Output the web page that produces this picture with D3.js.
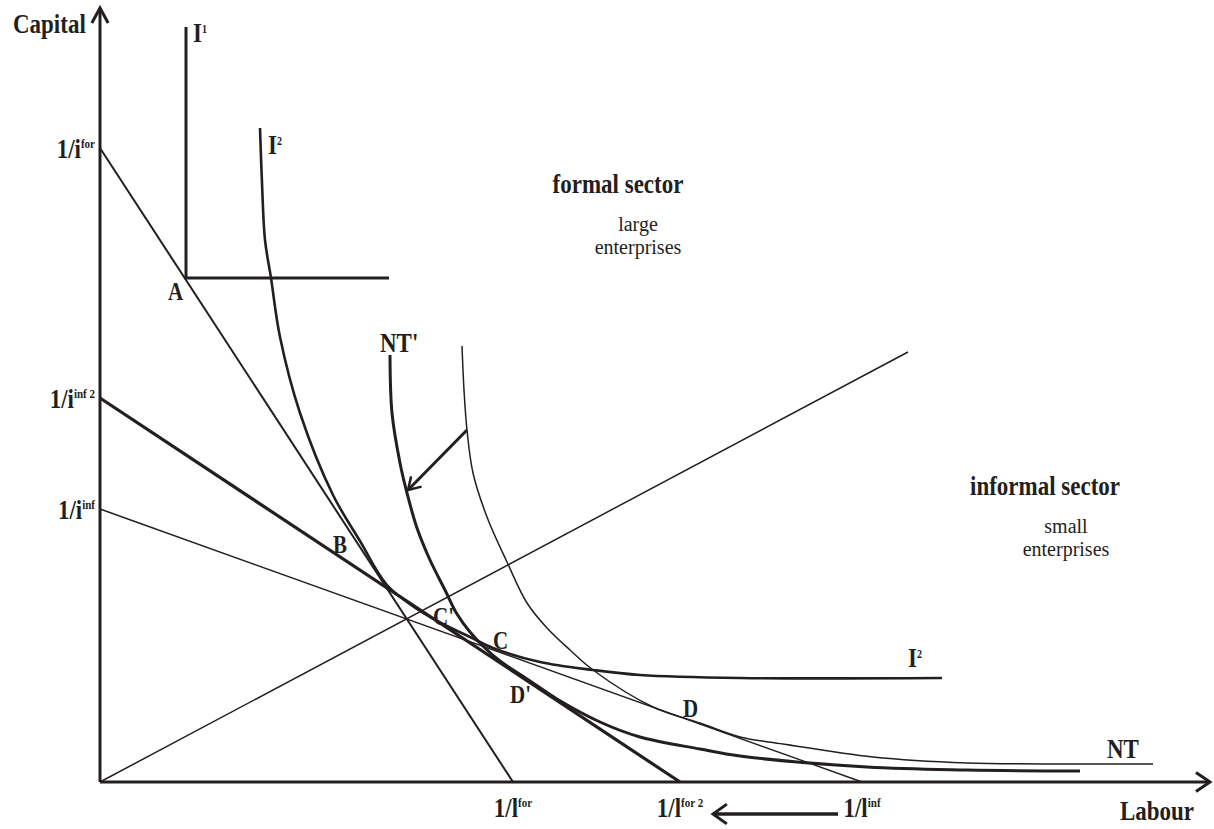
<!DOCTYPE html>
<html>
<head>
<meta charset="utf-8">
<script src="https://cdn.jsdelivr.net/npm/d3@7/dist/d3.min.js"></script>
<style>
  body { margin: 0; background: #fff; }
  text { font-family: "Liberation Serif", "Times New Roman", serif; fill: #231f20; }
</style>
</head>
<body>
<div id="chart"></div>
<script>
var svgWidth = 1214;
var svgHeight = 829;

var margin = { top: 8, right: 14, bottom: 47, left: 100 };
var width = svgWidth - margin.left - margin.right;
var height = svgHeight - margin.top - margin.bottom;
var ink = "#231f20";

// isocost lines: capital and labour intercepts
var budgetNames = ["for", "inf 2", "inf"];
var labourNames = ["for", "for 2", "inf"];
var capitalIntercepts = [63.4, 38.4, 27.3];
var labourIntercepts = [41.3, 58.0, 76.2];
var budgetWidths = [2, 3.2, 1.4];

// expansion ray from the origin
var rayEnd = [80.8, 43.0];

// Leontief isoquant I1
var i1Corner = [8.6, 50.4];
var i1Top = 75.5;
var i1Right = 28.9;

// isoquant I2
var i2Curve = [
  [16.0, 65.4], [16.2, 59.9], [16.5, 54.2], [17.1, 50.4], [18.0, 44.5],
  [20.0, 36.9], [23.3, 28.7], [26.0, 24.1], [28.7, 19.7], [31.7, 17.3],
  [34.3, 15.8], [37.0, 14.5], [39.3, 13.4], [44.0, 12.0], [49.3, 11.2],
  [54.0, 10.7], [64.0, 10.4], [84.2, 10.4]
];

// new technology NT' (after shift)
var ntPrimeCurve = [
  [29.0, 42.7], [29.2, 36.9], [30.0, 31.9], [30.7, 28.9], [31.7, 25.4],
  [33.0, 22.2], [34.5, 19.2], [35.7, 16.8], [37.0, 15.0], [38.5, 13.4],
  [40.0, 12.1], [43.0, 10.1], [45.7, 8.3], [50.0, 6.0], [54.0, 4.5],
  [60.0, 3.3], [64.0, 2.6], [76.7, 1.5], [86.7, 1.2], [98.0, 1.1]
];

// new technology NT
var ntCurve = [
  [36.2, 43.6], [36.4, 39.2], [36.7, 35.2], [37.3, 30.9], [38.7, 26.5],
  [40.7, 22.0], [42.7, 17.9], [44.7, 15.4], [47.0, 13.2], [49.3, 11.2],
  [55.3, 7.5], [60.0, 5.9], [64.0, 4.5], [68.3, 3.8], [77.3, 2.5],
  [86.7, 1.9], [96.7, 1.8], [105.3, 1.8]
];

// shift arrow NT -> NT' and labour-intercept shift arrow
var shiftArrow = [[36.7, 35.2], [30.8, 29.2]];
var labourShift = [[73.8, -3.2], [61.3, -3.2]];

// point labels
var pointNames = ["A", "B", "C'", "C", "D'", "D"];
var pointPos = [[6.8, 48.2], [23.3, 22.9], [33.3, 15.7], [39.3, 13.3], [41.0, 7.9], [58.3, 6.5]];

var svg = d3.select("#chart")
  .append("svg")
  .attr("width", svgWidth)
  .attr("height", svgHeight);

var chartG = svg.append("g")
  .attr("transform", `translate(${margin.left}, ${margin.top})`);

var xScale = d3.scaleLinear().domain([0, 110]).range([0, width]);
var yScale = d3.scaleLinear().domain([0, 77.4]).range([height, 0]);

var line = d3.line().x(d => xScale(d[0])).y(d => yScale(d[1]));
var smooth = d3.line().x(d => xScale(d[0])).y(d => yScale(d[1]))
  .curve(d3.curveCatmullRom.alpha(0.5));

function seg(pts, w) {
  return chartG.append("path")
    .attr("d", line(pts))
    .attr("fill", "none")
    .attr("stroke", ink)
    .attr("stroke-width", w);
}

// chevron head at end of a segment
function head(from, to, len, spread, w) {
  var x1 = xScale(from[0]), y1 = yScale(from[1]);
  var x2 = xScale(to[0]), y2 = yScale(to[1]);
  var a = Math.atan2(y2 - y1, x2 - x1);
  var p1 = [x2 - len * Math.cos(a - spread), y2 - len * Math.sin(a - spread)];
  var p2 = [x2 - len * Math.cos(a + spread), y2 - len * Math.sin(a + spread)];
  chartG.append("path")
    .attr("d", `M${p1}L${x2},${y2}L${p2}`)
    .attr("fill", "none")
    .attr("stroke", ink)
    .attr("stroke-width", w);
}

// axes
seg([[0, 0], [0, 77.4]], 3);
head([0, 0], [0, 77.4], 17, 0.5, 3);
seg([[0, 0], [111, 0]], 3);
head([0, 0], [111, 0], 17, 0.6, 3);

// isocost lines
budgetNames.forEach(function(n, i) {
  seg([[0, capitalIntercepts[i]], [labourIntercepts[i], 0]], budgetWidths[i]);
});

// ray
seg([[0, 0], rayEnd], 1.5);

// I1
seg([[i1Corner[0], i1Top], i1Corner, [i1Right, i1Corner[1]]], 3);

// curves
chartG.append("path").attr("d", smooth(i2Curve))
  .attr("fill", "none").attr("stroke", ink).attr("stroke-width", 2.6);
chartG.append("path").attr("d", smooth(ntPrimeCurve))
  .attr("fill", "none").attr("stroke", ink).attr("stroke-width", 3);
chartG.append("path").attr("d", smooth(ntCurve))
  .attr("fill", "none").attr("stroke", ink).attr("stroke-width", 1.5);

// shift arrows
seg(shiftArrow, 3);
head(shiftArrow[0], shiftArrow[1], 14, 0.55, 2.5);
seg(labourShift, 3.5);
head(labourShift[0], labourShift[1], 17, 0.62, 3);

// text helper: parts = [[string, size, rise]]
function label(px, py, parts, weight, anchor) {
  var t = chartG.append("text")
    .attr("transform", `translate(${px}, ${py}) scale(1, 1.15)`)
    .attr("font-weight", weight || "bold")
    .attr("text-anchor", anchor || "start");
  var prev = 0;
  parts.forEach(function(p) {
    var rise = p[2] || 0;
    t.append("tspan")
      .attr("font-size", p[1])
      .attr("dy", prev - rise)
      .text(p[0]);
    prev = rise;
  });
  return t;
}

// centred note, one text per line
function note(px, py, lines, size, gap) {
  lines.forEach(function(s, i) {
    chartG.append("text")
      .attr("x", px)
      .attr("y", py + i * gap)
      .attr("text-anchor", "middle")
      .attr("font-size", size)
      .text(s);
  });
}

// axis titles
label(-87, 25, [["Capital", 23]]);
label(xScale(110) - 80, yScale(0) + 38, [["Labour", 23]]);

// intercept labels
budgetNames.forEach(function(n, i) {
  label(-5, yScale(capitalIntercepts[i]) + 10, [["1/i", 23], [n, 11, 9]], "bold", "end");
  label(xScale(labourIntercepts[i]), yScale(0) + 35, [["1/l", 23], [labourNames[i], 11, 9]], "bold", "middle");
});

// curve labels
label(xScale(9.3), yScale(74.0), [["I", 23], ["1", 10, 8]]);
label(xScale(16.8), yScale(62.8), [["I", 23], ["2", 10, 8]]);
label(xScale(80.8), yScale(11.5), [["I", 23], ["2", 10, 8]]);
label(xScale(28.0), yScale(43.0), [["NT'", 23]]);
label(xScale(100.7), yScale(2.4), [["NT", 23]]);

pointNames.forEach(function(n, i) {
  label(xScale(pointPos[i][0]), yScale(pointPos[i][1]), [[n, 21]]);
});

// sector notes
label(xScale(51.8), yScale(58.9), [["formal sector", 23]], "bold", "middle");
note(xScale(53.8), yScale(55.1), ["large", "enterprises"], 20, 23);
label(xScale(94.5), yScale(28.7), [["informal sector", 23]], "bold", "middle");
note(xScale(96.6), yScale(24.9), ["small", "enterprises"], 20, 23);
</script>
</body>
</html>
